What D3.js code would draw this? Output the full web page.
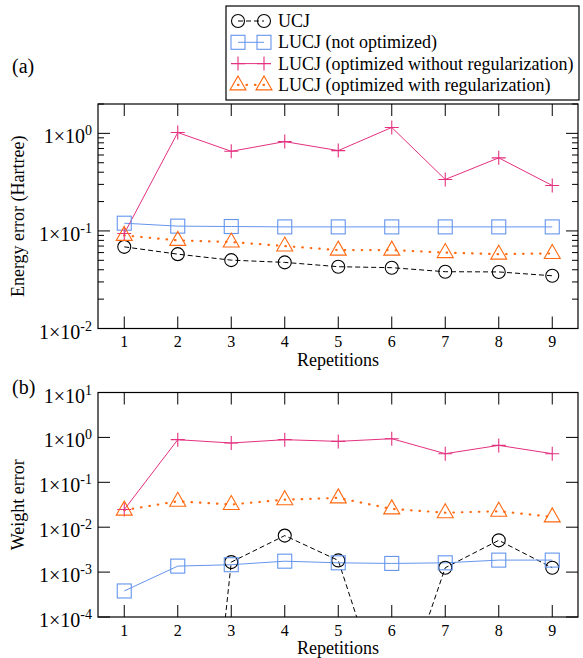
<!DOCTYPE html>
<html>
<head>
<meta charset="utf-8">
<script src="https://cdn.jsdelivr.net/npm/d3@7"></script>
<style>
  body { margin: 0; background: #fff; }
  svg text { font-family: "Liberation Serif", "Times New Roman", serif; fill: #000; }
</style>
</head>
<body>
<div id="chart"></div>
<script>
// repetitions on the x axis
const reps = [1, 2, 3, 4, 5, 6, 7, 8, 9];

// (a) energy error (Hartree)
const energyUCJ = [0.0687, 0.0578, 0.0502, 0.0476, 0.0430, 0.0420, 0.0382, 0.0380, 0.0347];
const energyNotOpt = [0.120, 0.112, 0.111, 0.110, 0.110, 0.110, 0.110, 0.110, 0.110];
const energyNoReg = [0.094, 1.02, 0.655, 0.823, 0.666, 1.15, 0.337, 0.561, 0.292];
const energyReg = [0.090, 0.080, 0.077, 0.070, 0.0636, 0.0636, 0.060, 0.0578, 0.0588];

// (b) weight error
const weightUCJ = [1e-14, 1e-14, 1.67e-3, 6.5e-3, 1.82e-3, 4e-7, 1.25e-3, 5.1e-3, 1.25e-3];
const weightNotOpt = [3.8e-4, 1.36e-3, 1.46e-3, 1.75e-3, 1.61e-3, 1.56e-3, 1.61e-3, 1.85e-3, 1.85e-3];
const weightNoReg = [0.0247, 0.89, 0.75, 0.89, 0.815, 0.935, 0.434, 0.664, 0.434];
const weightReg = [0.024, 0.0378, 0.032, 0.041, 0.045, 0.0256, 0.021, 0.0227, 0.017];

const seriesNames = ["UCJ", "LUCJ (not optimized)", "LUCJ (optimized without regularization)", "LUCJ (optimized with regularization)"];
const energyTicks = [-2, -1, 0];
const weightTicks = [-4, -3, -2, -1, 0, 1];

const styles = [
  { color: "#000000", dash: "5,3", width: 1, marker: "circle" },
  { color: "#6495ed", dash: null, width: 1, marker: "square" },
  { color: "#e3307f", dash: null, width: 1, marker: "plus" },
  { color: "#ff6a13", dash: "0.5,8", width: 2.2, marker: "triangle" }
];

const W = 583, H = 658;
const svg = d3.select("#chart").append("svg")
  .attr("width", W).attr("height", H);

function drawMarker(g, type, x, y, color) {
  if (type === "circle") {
    g.append("circle").attr("cx", x).attr("cy", y).attr("r", 6.5)
      .attr("fill", "none").attr("stroke", color).attr("stroke-width", 1.1);
  } else if (type === "square") {
    g.append("rect").attr("x", x - 7).attr("y", y - 7).attr("width", 14).attr("height", 14)
      .attr("fill", "none").attr("stroke", color).attr("stroke-width", 1.1);
  } else if (type === "plus") {
    g.append("path").attr("d", `M${x - 7},${y}H${x + 7}M${x},${y - 7}V${y + 7}`)
      .attr("stroke", color).attr("stroke-width", 1.1);
  } else {
    g.append("path").attr("d", `M${x},${y - 9}L${x + 8},${y + 5}L${x - 8},${y + 5}Z`)
      .attr("fill", "none").attr("stroke", color).attr("stroke-width", 1.1);
  }
}

function panel(opts) {
  const { top, bottom, domain, decades, minor, series, ylabel, tag, id } = opts;
  const left = 98, right = 578;
  const x = d3.scaleLinear().domain([0.5, 9.5]).range([left - 0.5, right + 1]);
  const y = d3.scaleLog().domain(domain).range([bottom, top]);
  const g = svg.append("g");

  g.append("clipPath").attr("id", id).append("rect")
    .attr("x", left).attr("y", top).attr("width", right - left).attr("height", bottom - top);

  // ticks: x on top and bottom
  reps.forEach(r => {
    g.append("line").attr("x1", x(r)).attr("x2", x(r)).attr("y1", bottom).attr("y2", bottom - 12)
      .attr("stroke", "#000");
    g.append("line").attr("x1", x(r)).attr("x2", x(r)).attr("y1", top).attr("y2", top + 12)
      .attr("stroke", "#000");
    g.append("text").attr("x", x(r)).attr("y", bottom + 18.5).attr("text-anchor", "middle")
      .attr("font-size", 16).text(r);
  });

  // y ticks left and right
  decades.forEach(e => {
    const yy = y(Math.pow(10, e));
    g.append("line").attr("x1", left).attr("x2", left + 12).attr("y1", yy).attr("y2", yy).attr("stroke", "#000");
    g.append("line").attr("x1", right).attr("x2", right - 12).attr("y1", yy).attr("y2", yy).attr("stroke", "#000");
    const t = g.append("text").attr("x", left - 6).attr("y", yy + 10).attr("text-anchor", "end")
      .attr("font-size", 20);
    t.append("tspan").text("1\u00d710");
    t.append("tspan").attr("dy", -8).attr("font-size", 14).text(e);
  });
  if (minor) {
    y.ticks().forEach(v => {
      const e = Math.log10(v);
      if (Math.abs(e - Math.round(e)) < 1e-9) return;
      const yy = y(v);
      g.append("line").attr("x1", left).attr("x2", left + 6).attr("y1", yy).attr("y2", yy).attr("stroke", "#000");
      g.append("line").attr("x1", right).attr("x2", right - 6).attr("y1", yy).attr("y2", yy).attr("stroke", "#000");
    });
  }

  // data
  const plot = g.append("g").attr("clip-path", `url(#${id})`);
  series.forEach((vals, i) => {
    const s = styles[i];
    const line = d3.line().x((d, j) => x(reps[j])).y(d => y(d));
    plot.append("path").datum(vals).attr("d", line)
      .attr("fill", "none").attr("stroke", s.color).attr("stroke-width", s.width)
      .attr("stroke-dasharray", s.dash).attr("stroke-linecap", s.dash && s.width > 1 ? "round" : "butt");
  });
  series.forEach((vals, i) => {
    vals.forEach((v, j) => drawMarker(plot, styles[i].marker, x(reps[j]), y(v), styles[i].color));
  });

  // frame
  g.append("rect").attr("x", left).attr("y", top).attr("width", right - left).attr("height", bottom - top)
    .attr("fill", "none").attr("stroke", "#000").attr("stroke-width", 1.2);

  g.append("text").attr("x", (left + right) / 2).attr("y", bottom + 37).attr("text-anchor", "middle")
    .attr("font-size", 18).text("Repetitions");
  g.append("text").attr("transform", `translate(24,${(top + bottom) / 2}) rotate(-90)`)
    .attr("text-anchor", "middle").attr("font-size", 18).text(ylabel);
  g.append("text").attr("x", 12).attr("y", tag).attr("font-size", 20).text(opts.tagText);
}

panel({
  id: "clipA", top: 104, bottom: 328.5, domain: [0.01, 2], decades: energyTicks, minor: true,
  series: [energyUCJ, energyNotOpt, energyNoReg, energyReg],
  ylabel: "Energy error (Hartree)", tag: 73, tagText: "(a)"
});
panel({
  id: "clipB", top: 392.5, bottom: 617, domain: [1e-4, 10], decades: weightTicks, minor: false,
  series: [weightUCJ, weightNotOpt, weightNoReg, weightReg],
  ylabel: "Weight error", tag: 394, tagText: "(b)"
});

// legend
const lg = svg.append("g");
lg.append("rect").attr("x", 226).attr("y", 6).attr("width", 353).attr("height", 94)
  .attr("fill", "#fff").attr("stroke", "#000").attr("stroke-width", 1.2);
seriesNames.forEach((name, i) => {
  const cy = 21 + i * 21.3;
  const s = styles[i];
  lg.append("line").attr("x1", 238).attr("x2", 264).attr("y1", cy).attr("y2", cy)
    .attr("stroke", s.color).attr("stroke-width", s.width).attr("stroke-dasharray", s.dash)
    .attr("stroke-linecap", s.dash && s.width > 1 ? "round" : "butt");
  drawMarker(lg, s.marker, 238, cy, s.color);
  drawMarker(lg, s.marker, 264, cy, s.color);
  lg.append("text").attr("x", 278).attr("y", cy + 6).attr("font-size", 18).text(name);
});
</script>
</body>
</html>
